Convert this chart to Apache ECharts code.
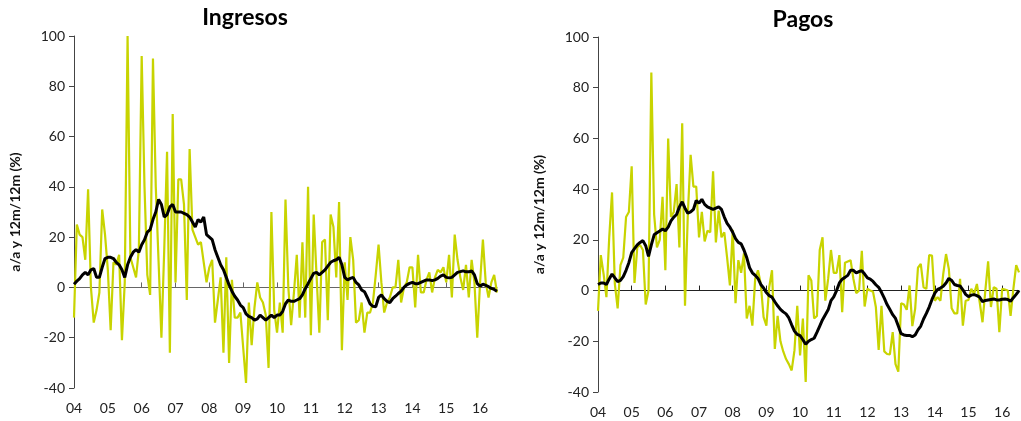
<!DOCTYPE html>
<html><head><meta charset="utf-8">
<script src="https://cdn.jsdelivr.net/npm/echarts@6/dist/echarts.min.js"></script>
<style>html,body{margin:0;padding:0;background:#fff}#c{width:1021px;height:421px}</style>
</head><body><div id="c"></div>
<script>
const yearLabels = ['04','05','06','07','08','09','10','11','12','13','14','15','16'];
const titles = ['Ingresos', 'Pagos'];
const yAxisName = 'a/a y 12m/12m (%)';
const yTicks = [-40, -20, 0, 20, 40, 60, 80, 100];

const ingresosAA = [-12,25,21,20,11,39,0,-14,-9,-2,31,21,7,-17,10,9,13,-21,2,100,
 12,8,4,15,92,40,5,-3,91,40,10,-20,15,54,-26,69,2,43,43,33,
 -5,55,23,20,17,18,10,2,8,11,-14,-5,4,-26,12,-30,3,-12,-12,-10,
 -24,-38,-6,-23,-8,2,-4,-6,-11,-32,30,-9,-18,-6,-18,35,0,-15,-2,13,
 -12,18,-12,40,-19,29,5,-18,18,19,-13,29,24,4,34,-25,10,-5,20,11,
 -14,-13,-6,-18,-10,-10,-6,5,17,2,-10,-6,-4,0,0,11,-6,0,2,8,
 8,-8,13,-2,-2,3,6,-2,4,7,6,8,2,13,-4,21,11,4,-1,9,
 -4,11,2,-20,2,19,2,-4,2,5,-2];
const ingresos12 = [1.3,2.5,3.5,5,6,5,7,7.5,4,4,8,11.5,12,12,11.5,10,9,7,4,9,
 12,14,15,14,17,19,22,23,27,30,35,33,28,29,32,33,30,30,30,29.5,
 29,28,26,24,27,26,28,21,20,19,15,12,9,7,4,1,-1.5,-3.5,-5,-7,
 -8,-10.5,-11.5,-12,-13,-12.5,-11,-12,-13,-12,-11,-12,-11,-11,-9.5,-6.5,-5,-5.5,-5.5,-5,
 -4.5,-3,-0.5,1.5,3.6,5.6,6,5,6,7,8.5,10,10.6,11,12,9,4,3,3.6,4,
 2,1,-1,-1.7,-4,-6.5,-7.5,-7.7,-4,-3,-4.5,-5.5,-6,-4.5,-3.5,-2.4,-1.5,0,1,1.6,
 2,1.5,1.5,2,2.5,3,3,2.7,3,3.6,4.5,5,4,3.8,4,5,6,6.3,6.6,6.2,
 6.2,6.6,5,1.5,0.5,1.3,0.8,0.3,-0.4,-0.8,-1.5];
const pagosAA = [-8,14,6.5,-2.6,21,38.7,2.6,-7,10,13,29,31,49,3,17,18,16,-5.5,0,86,
 30,17,20,37,8,60,29,31,42,17,66,-6,30,53.5,41,41,21,31,19.4,23.6,
 23,47,19,31.5,21,23,13,2,24,-5,12,7,14.7,-11,-6,-13.8,4.6,8,2.6,-10.5,
 -13.8,1.3,8,-23,-10,-20,-24,-27,-29,-31.5,-23.6,-6,-25.6,-11,-36,6,4,-11,-10,16,
 21,-4,4.6,16,7,7,14,-8.5,11,11.5,12,4.6,-1,0,15.7,-6.3,0.7,0,-0.5,-6.5,
 -23.4,-6,-24,-25,-25.2,-16.4,-29,-32,-5,-5.5,-7.6,2,-14,-7.2,9,10.5,1.3,0.7,14,13.8,
 -4,-2.6,-4,6.5,14.4,8.5,-7,-9,-9,4.6,-13.8,-4,-3.7,0.7,-1.3,2.6,-4.6,-12.5,0,11.5,
 -6.5,1.3,0.7,-16.4,0.7,0.4,0,-10,0.7,10,7.2];
const pagos12 = [2.4,3,3,2.4,4.6,6.5,5,3.5,4,5.5,8,11,15,16.5,18,19,19.7,17.7,13.5,18,
 22,22.8,23.5,24.3,23.6,25,27.5,29,30,33,35,32.5,30.5,31,32,35.5,34.5,36,34,33,
 32.5,32,32.5,33,32,29,26.5,25,23,20.5,19,18.4,16,13,9,7,6,4.8,2.4,1,
 -0.8,-2,-2.6,-4.4,-6,-7.4,-8.4,-9.2,-10.8,-13.5,-16,-17.3,-17.8,-19.4,-21.2,-20,-19.3,-18.8,-16.5,-14,
 -11.5,-9.5,-7.6,-4,-2.5,0,3,4.5,5.2,6,8,8,7,7.5,7.8,6.5,5,4.5,3.6,2.3,
 1.3,-0.7,-3,-5.5,-7.5,-9.5,-11,-14,-17,-17.5,-17.7,-17.7,-18.2,-17.5,-15.5,-14,-11.2,-9,-6.5,-3.5,
 -1,0.5,1,1.7,3,4.8,4,2.4,2,1.8,0.3,-1.5,-2.4,-1.8,-1.6,-2,-2.6,-4.4,-3.9,-3.7,
 -3.5,-3.3,-3.7,-3.7,-3.4,-3.3,-3.5,-4.2,-2.8,-1.5,0];

const months = [];
yearLabels.forEach(y => { for (let m = 1; m <= 12; m++) months.push(y + '-' + (m < 10 ? '0' + m : m)); });
const categories = months.slice(0, ingresosAA.length);

const FONT = 'Lato, "Open Sans", sans-serif';
const GREEN = '#c8d400';
const grids = [
  { left: 74, top: 36, width: 423, height: 352 },
  { left: 598, top: 37, width: 421, height: 355 }
];
const zeroColors = ['#666666', '#222222'];
const isJan = (i) => i % 12 === 0;

const xAxis = [], yAxis = [], series = [];
[0, 1].forEach(g => {
  xAxis.push({
    type: 'category', gridIndex: g, data: categories, boundaryGap: false,
    axisLine: { show: false, onZero: false }, axisTick: { show: false },
    splitLine: { show: false },
    axisLabel: { interval: isJan, formatter: v => v.slice(0, 2), margin: 13,
      fontFamily: FONT, fontSize: 14, color: '#222', hideOverlap: false }
  });
  xAxis.push({
    type: 'category', gridIndex: g, data: categories, boundaryGap: false,
    axisLine: { show: true, onZero: true, lineStyle: { color: zeroColors[g], width: 1 } },
    axisTick: { show: true, interval: isJan, length: 5, inside: false, lineStyle: { color: zeroColors[g] } },
    axisLabel: { show: false }, splitLine: { show: false }
  });
  yAxis.push({
    type: 'value', gridIndex: g, min: yTicks[0], max: yTicks[yTicks.length - 1], interval: 20,
    name: yAxisName, nameLocation: 'middle', nameGap: 52,
    nameTextStyle: { fontFamily: FONT, fontSize: 14, fontWeight: 'bold', color: '#111' },
    axisLine: { show: true, lineStyle: { color: '#444', width: 1 } },
    axisTick: { show: true, length: 5, inside: false, lineStyle: { color: '#444' } },
    splitLine: { show: false },
    axisLabel: { fontFamily: FONT, fontSize: 14, color: '#222', margin: 9 }
  });
});

const aa = [ingresosAA, pagosAA];
const tw = [ingresos12, pagos12];
[0, 1].forEach(g => {
  series.push({ type: 'line', xAxisIndex: g * 2, yAxisIndex: g, data: aa[g], symbol: 'none',
    lineStyle: { color: GREEN, width: 2.2 }, z: 2, animation: false });
  series.push({ type: 'line', xAxisIndex: g * 2, yAxisIndex: g, data: tw[g], symbol: 'none',
    lineStyle: { color: '#000', width: 3 }, z: 3, animation: false });
});

const chart = echarts.init(document.getElementById('c'), null, { renderer: 'canvas' });
chart.setOption({
  backgroundColor: '#fff',
  animation: false,
  grid: grids,
  xAxis, yAxis, series,
  graphic: [
    { type: 'text', x: 245, y: 18, style: { text: titles[0], font: 'bold 23px ' + FONT, fill: '#000', align: 'center', verticalAlign: 'middle' } },
    { type: 'text', x: 803, y: 20, style: { text: titles[1], font: 'bold 23px ' + FONT, fill: '#000', align: 'center', verticalAlign: 'middle' } }
  ]
});
</script></body></html>
